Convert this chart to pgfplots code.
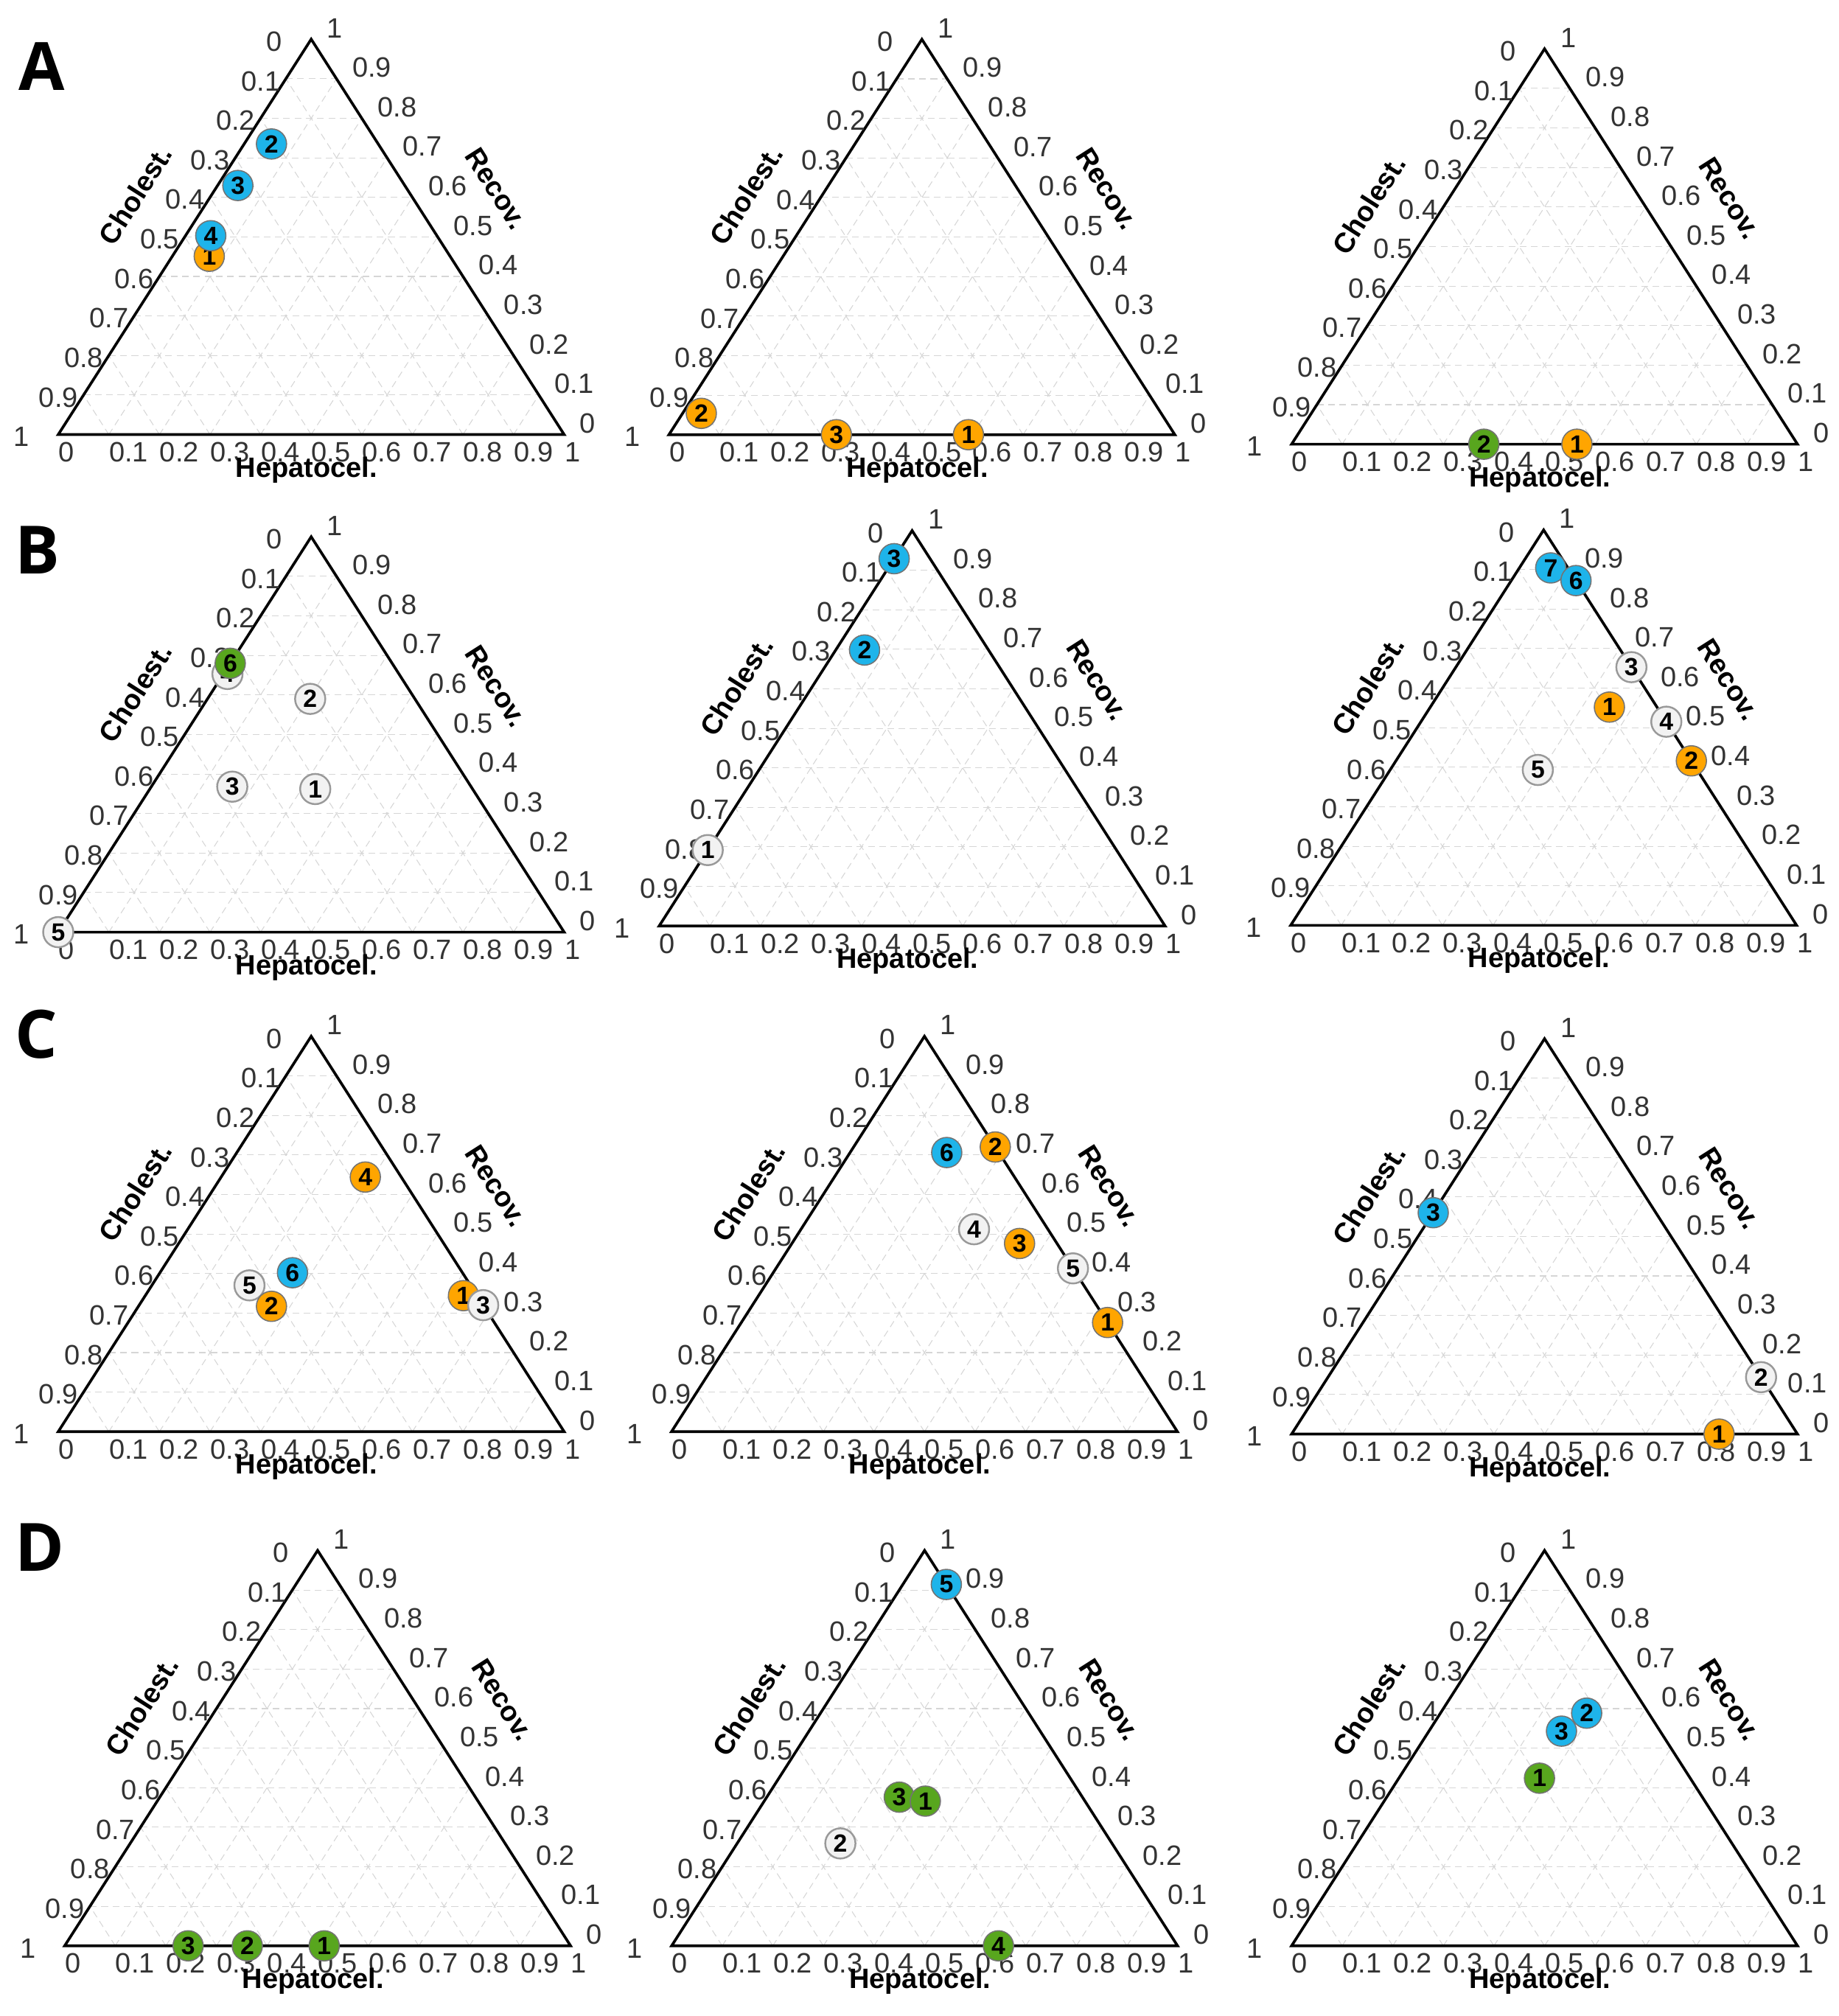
\documentclass[border=0pt]{standalone}
\usepackage{fontspec}
\setmainfont{Liberation Sans}
\newfontfamily\letterfont{Open Sans}
\usepackage{pgfplots}
\pgfplotsset{compat=1.18}
\definecolor{cblue}{HTML}{1EB4EA}
\definecolor{corange}{HTML}{FFA500}
\definecolor{cgreen}{HTML}{58A61E}
\definecolor{cwhite}{HTML}{F2F2F2}
\definecolor{tickgray}{HTML}{333333}
\tikzset{
  tgrid/.style={gray!32, densely dashed, line width=0.35pt},
  tlab/.style={anchor=west, inner sep=0pt, text=tickgray, font=\fontsize{12.4}{13}\selectfont},
  ttitle/.style={anchor=center, inner sep=0pt, font=\bfseries\fontsize{12.4}{14}\selectfont},
  plet/.style={anchor=south west, inner sep=0pt, font=\letterfont\bfseries\fontsize{29.5}{31}\selectfont}
}
\pgfplotsset{
  tern/.style={anchor=south west, width=78.7mm, height=61.5mm, scale only axis,
    xmin=0, xmax=1, ymin=0, ymax=1, hide axis, clip=false},
  pbase/.style={only marks, mark=*, mark size=2.35mm, point meta=explicit symbolic,
    nodes near coords,
    every node near coord/.append style={anchor=center, inner sep=0pt, text=black,
      font=\bfseries\fontsize{11}{12}\selectfont}},
  pb/.style={pbase, mark options={fill=cblue, draw=black!55, line width=0.5pt}},
  po/.style={pbase, mark options={fill=corange, draw=black!55, line width=0.5pt}},
  pg/.style={pbase, mark options={fill=cgreen, draw=black!55, line width=0.5pt}},
  pw/.style={pbase, mark options={fill=cwhite, draw=black!40, line width=0.8pt}}
}
\newcommand{\ternframe}{%
  \pgfplotsinvokeforeach{1,...,9}{%
    \draw[tgrid] (axis cs:0.05*##1,0.1*##1) -- (axis cs:1-0.05*##1,0.1*##1);
    \draw[tgrid] (axis cs:0.1*##1,0) -- (axis cs:0.5+0.05*##1,1-0.1*##1);
    \draw[tgrid] (axis cs:1-0.1*##1,0) -- (axis cs:0.5-0.05*##1,1-0.1*##1);
  }%
  \draw[line width=1.2pt, line join=miter] (axis cs:0,0) -- (axis cs:1,0) -- (axis cs:0.5,1) -- cycle;
  \pgfplotsinvokeforeach{0,0.1,0.2,0.3,0.4,0.5,0.6,0.7,0.8,0.9,1}{%
    \node[tlab, yshift=-2.74mm] at (axis cs:##1,0) {##1};
    \node[tlab, xshift=-7mm, yshift=-0.36mm] at (axis cs:0.5-0.5*##1,1-##1) {##1};
    \node[tlab, xshift=2.4mm, yshift=1.75mm] at (axis cs:1-0.5*##1,##1) {##1};
  }%
  \node[ttitle] at (axis cs:0.491,-0.089) {Hepatocel.};
  \node[ttitle, rotate=57.5] at (axis cs:0.1526,0.606) {Cholest.};
  \node[ttitle, rotate=-57.5] at (axis cs:0.866,0.622) {Recov.};
}
\begin{document}
\begin{tikzpicture}
\path[use as bounding box] (0,0) rectangle (286mm,-313.6mm);
\node[plet] at (2.8mm,-14.16mm) {A};
\node[plet] at (2.3mm,-89.28mm) {B};
\node[plet] at (2.3mm,-164.8mm) {C};
\node[plet] at (2.3mm,-244.52mm) {D};
% ---------- Row A ----------
\begin{axis}[tern, at={(9.06mm,-67.60mm)}]
\ternframe
\addplot[po] table[row sep=\\, x expr=\thisrow{h}+0.5*\thisrow{r}, y expr=\thisrow{r}, meta=n] {
h r n \\
0.073 0.451 1 \\
};
\addplot[pb] table[row sep=\\, x expr=\thisrow{h}+0.5*\thisrow{r}, y expr=\thisrow{r}, meta=n] {
h r n \\
0.054 0.735 2 \\
0.040 0.630 3 \\
0.050 0.503 4 \\
};
\end{axis}
\begin{axis}[tern, at={(104.06mm,-67.62mm)}]
\ternframe
\addplot[po] table[row sep=\\, x expr=\thisrow{h}+0.5*\thisrow{r}, y expr=\thisrow{r}, meta=n] {
h r n \\
0.592 0 1 \\
0.037 0.054 2 \\
0.331 0 3 \\
};
\end{axis}
\begin{axis}[tern, at={(200.92mm,-69.10mm)}]
\ternframe
\addplot[po] table[row sep=\\, x expr=\thisrow{h}+0.5*\thisrow{r}, y expr=\thisrow{r}, meta=n] {
h r n \\
0.564 0 1 \\
};
\addplot[pg] table[row sep=\\, x expr=\thisrow{h}+0.5*\thisrow{r}, y expr=\thisrow{r}, meta=n] {
h r n \\
0.380 0 2 \\
};
\end{axis}
% ---------- Row B ----------
\begin{axis}[tern, at={(9.06mm,-145.00mm)}]
\ternframe
\addplot[pw] table[row sep=\\, x expr=\thisrow{h}+0.5*\thisrow{r}, y expr=\thisrow{r}, meta=n] {
h r n \\
0.327 0.362 1 \\
0.203 0.590 2 \\
0.160 0.368 3 \\
0.008 0.653 4 \\
0 0 5 \\
};
\addplot[pg] table[row sep=\\, x expr=\thisrow{h}+0.5*\thisrow{r}, y expr=\thisrow{r}, meta=n] {
h r n \\
0 0.680 6 \\
};
\end{axis}
\begin{axis}[tern, at={(102.54mm,-144.04mm)}]
\ternframe
\addplot[pw] table[row sep=\\, x expr=\thisrow{h}+0.5*\thisrow{r}, y expr=\thisrow{r}, meta=n] {
h r n \\
0 0.192 1 \\
};
\addplot[pb] table[row sep=\\, x expr=\thisrow{h}+0.5*\thisrow{r}, y expr=\thisrow{r}, meta=n] {
h r n \\
0.057 0.698 2 \\
0 0.929 3 \\
};
\end{axis}
\begin{axis}[tern, at={(200.78mm,-143.94mm)}]
\ternframe
\addplot[po] table[row sep=\\, x expr=\thisrow{h}+0.5*\thisrow{r}, y expr=\thisrow{r}, meta=n] {
h r n \\
0.354 0.552 1 \\
0.584 0.416 2 \\
};
\addplot[pw] table[row sep=\\, x expr=\thisrow{h}+0.5*\thisrow{r}, y expr=\thisrow{r}, meta=n] {
h r n \\
0.347 0.653 3 \\
0.485 0.515 4 \\
0.292 0.393 5 \\
};
\addplot[pb] table[row sep=\\, x expr=\thisrow{h}+0.5*\thisrow{r}, y expr=\thisrow{r}, meta=n] {
h r n \\
0.062 0.904 7 \\
0.128 0.872 6 \\
};
\end{axis}
% ---------- Row C ----------
\begin{axis}[tern, at={(9.06mm,-222.70mm)}]
\ternframe
\addplot[po] table[row sep=\\, x expr=\thisrow{h}+0.5*\thisrow{r}, y expr=\thisrow{r}, meta=n] {
h r n \\
0.629 0.344 1 \\
0.285 0.644 4 \\
};
\addplot[pw] table[row sep=\\, x expr=\thisrow{h}+0.5*\thisrow{r}, y expr=\thisrow{r}, meta=n] {
h r n \\
0.680 0.320 3 \\
0.193 0.370 5 \\
};
\addplot[po] table[row sep=\\, x expr=\thisrow{h}+0.5*\thisrow{r}, y expr=\thisrow{r}, meta=n] {
h r n \\
0.263 0.317 2 \\
};
\addplot[pb] table[row sep=\\, x expr=\thisrow{h}+0.5*\thisrow{r}, y expr=\thisrow{r}, meta=n] {
h r n \\
0.262 0.402 6 \\
};
\end{axis}
\begin{axis}[tern, at={(104.46mm,-222.70mm)}]
\ternframe
\addplot[po] table[row sep=\\, x expr=\thisrow{h}+0.5*\thisrow{r}, y expr=\thisrow{r}, meta=n] {
h r n \\
0.724 0.276 1 \\
0.280 0.720 2 \\
0.450 0.476 3 \\
};
\addplot[pw] table[row sep=\\, x expr=\thisrow{h}+0.5*\thisrow{r}, y expr=\thisrow{r}, meta=n] {
h r n \\
0.342 0.512 4 \\
0.587 0.413 5 \\
};
\addplot[pb] table[row sep=\\, x expr=\thisrow{h}+0.5*\thisrow{r}, y expr=\thisrow{r}, meta=n] {
h r n \\
0.191 0.706 6 \\
};
\end{axis}
\begin{axis}[tern, at={(200.92mm,-223.08mm)}]
\ternframe
\addplot[po] table[row sep=\\, x expr=\thisrow{h}+0.5*\thisrow{r}, y expr=\thisrow{r}, meta=n] {
h r n \\
0.845 0 1 \\
};
\addplot[pw] table[row sep=\\, x expr=\thisrow{h}+0.5*\thisrow{r}, y expr=\thisrow{r}, meta=n] {
h r n \\
0.856 0.144 2 \\
};
\addplot[pb] table[row sep=\\, x expr=\thisrow{h}+0.5*\thisrow{r}, y expr=\thisrow{r}, meta=n] {
h r n \\
0 0.560 3 \\
};
\end{axis}
% ---------- Row D ----------
\begin{axis}[tern, at={(10.06mm,-302.68mm)}]
\ternframe
\addplot[pg] table[row sep=\\, x expr=\thisrow{h}+0.5*\thisrow{r}, y expr=\thisrow{r}, meta=n] {
h r n \\
0.513 0 1 \\
0.361 0 2 \\
0.244 0 3 \\
};
\end{axis}
\begin{axis}[tern, at={(104.48mm,-302.68mm)}]
\ternframe
\addplot[pw] table[row sep=\\, x expr=\thisrow{h}+0.5*\thisrow{r}, y expr=\thisrow{r}, meta=n] {
h r n \\
0.204 0.259 2 \\
};
\addplot[pg] table[row sep=\\, x expr=\thisrow{h}+0.5*\thisrow{r}, y expr=\thisrow{r}, meta=n] {
h r n \\
0.262 0.376 3 \\
0.3185 0.366 1 \\
0.646 0 4 \\
};
\addplot[pb] table[row sep=\\, x expr=\thisrow{h}+0.5*\thisrow{r}, y expr=\thisrow{r}, meta=n] {
h r n \\
0.086 0.914 5 \\
};
\end{axis}
\begin{axis}[tern, at={(200.92mm,-302.68mm)}]
\ternframe
\addplot[pg] table[row sep=\\, x expr=\thisrow{h}+0.5*\thisrow{r}, y expr=\thisrow{r}, meta=n] {
h r n \\
0.278 0.424 1 \\
};
\addplot[pb] table[row sep=\\, x expr=\thisrow{h}+0.5*\thisrow{r}, y expr=\thisrow{r}, meta=n] {
h r n \\
0.289 0.5885 2 \\
0.262 0.543 3 \\
};
\end{axis}
\end{tikzpicture}
\end{document}
